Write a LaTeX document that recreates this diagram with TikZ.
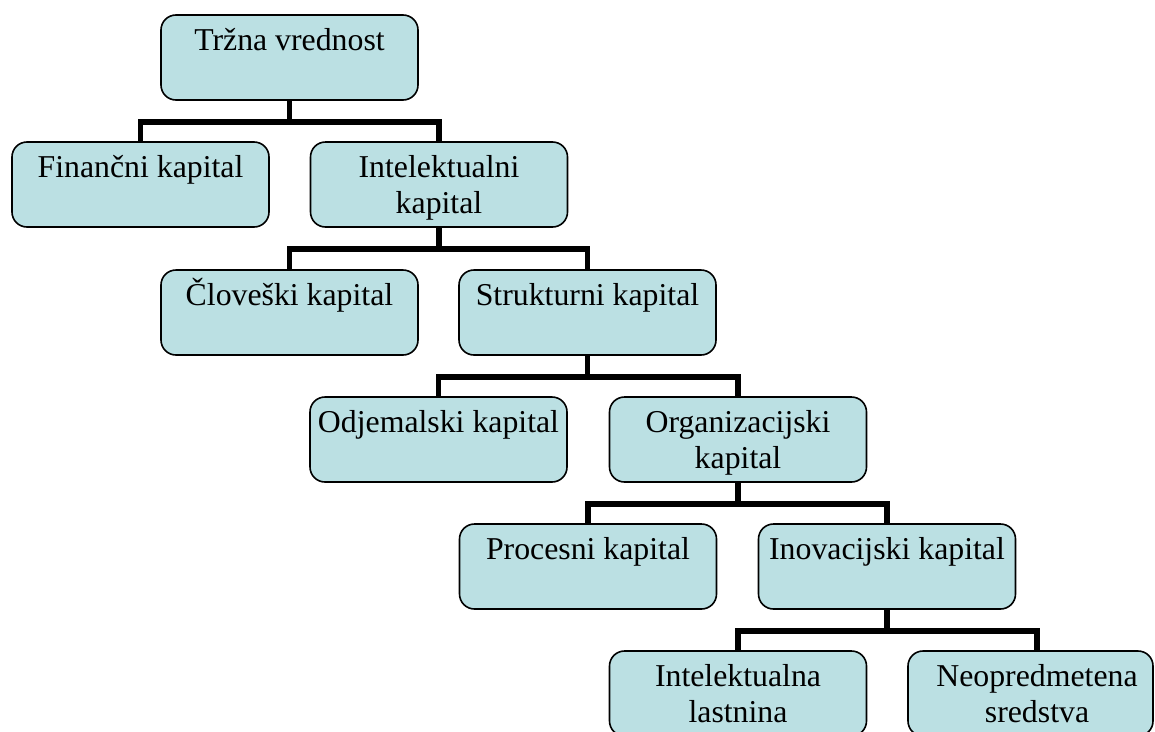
\documentclass[tikz,border=0pt]{standalone}
\usepackage{fontspec}
\setmainfont{Liberation Serif}
\definecolor{boxfill}{RGB}{187,224,227}
% top-aligned, centred text inside a fixed-size box
\newcommand\cell[2][257pt]{\parbox[c][85pt][t]{#1}{\centering\rule{0pt}{35pt}#2}}
\tikzset{
  box/.style={draw=black, line width=1.6pt, fill=boxfill, rounded corners=15pt,
    inner sep=0pt, font=\fontsize{31.8}{36}\selectfont},
  conn/.style={draw=black, line width=5.5pt, line join=miter},
}
\begin{document}
\begin{tikzpicture}[x=1pt,y=1pt]
\useasboundingbox (0,0) rectangle (1155,-731);
\clip (0,0) rectangle (1155,-731);

% boxes
\node[box] (tv)  at (289.5,-57.5)  {\cell{Tržna vrednost}};
\node[box] (fk)  at (140.5,-184.5) {\cell{Finančni kapital}};
\node[box] (ik)  at (439,-184.5)   {\cell{Intelektualni\\kapital}};
\node[box] (ck)  at (289.5,-312.5) {\cell{Človeški kapital}};
\node[box] (sk)  at (587.5,-312.5) {\cell{Strukturni kapital}};
\node[box] (ok)  at (438.5,-439.5) {\cell{Odjemalski kapital}};
\node[box] (ogk) at (738,-439.5)   {\cell{Organizacijski\\kapital}};
\node[box] (pk)  at (588,-566.5)   {\cell{Procesni kapital}};
\node[box] (ink) at (887,-566.5)   {\cell{Inovacijski kapital}};
\node[box] (il)  at (738,-693.5)   {\cell{Intelektualna\\lastnina}};
\node[box] (ns)  at (1030.5,-693.5) {\cell[245pt]{\hspace*{13pt}Neopredmetena\\\hspace*{13pt}sredstva}};

% elbow connectors: parent down to a bar, bar down to each child
\draw[conn] (tv.south) -- ([yshift=-21pt]tv.south);
\draw[conn] (fk.north) |- ([yshift=-21pt]tv.south) -| (ik.north);

\draw[conn] (ik.south) -- ([yshift=-21pt]ik.south);
\draw[conn] (ck.north) |- ([yshift=-21pt]ik.south) -| (sk.north);

\draw[conn] (sk.south) -- ([yshift=-21pt]sk.south);
\draw[conn] (ok.north) |- ([yshift=-21pt]sk.south) -| (ogk.north);

\draw[conn] (ogk.south) -- ([yshift=-21pt]ogk.south);
\draw[conn] (pk.north) |- ([yshift=-21pt]ogk.south) -| (ink.north);

\draw[conn] (ink.south) -- ([yshift=-21pt]ink.south);
\draw[conn] (il.north) |- ([yshift=-21pt]ink.south) -| ([xshift=6.5pt]ns.north);
\end{tikzpicture}
\end{document}
